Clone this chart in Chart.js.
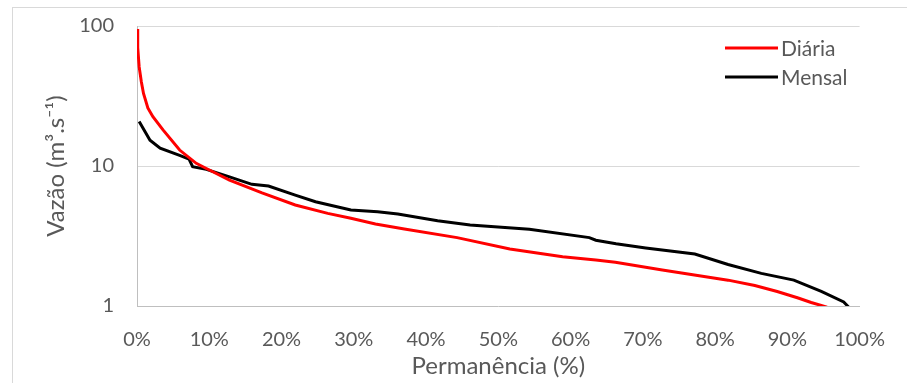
<!DOCTYPE html>
<html>
<head>
<meta charset="utf-8">
<script src="https://cdn.jsdelivr.net/npm/chart.js@4"></script>
<style>
    html, body { margin: 0; padding: 0; background: #ffffff; }
    #wrap { position: relative; width: 907px; height: 383px; }
</style>
</head>
<body>
<div id="wrap"><canvas id="grafico" width="907" height="383"></canvas></div>
<script>
// permanencia (%) e vazao (m3/s)
var diariaX = [0, 0.1, 0.3, 0.6, 0.9, 1.5, 2.2, 3.6, 5.9, 8.2, 9.6, 12.8, 17.3, 21.9, 26.4, 29.6, 33, 37, 44.3, 51.6, 58.9, 63.5, 66.2, 72.7, 81.8, 85.5, 88.6, 91.5, 93.3, 95.5];
var diariaY = [95, 70, 51, 40, 33, 26, 22.5, 18.1, 13, 10.45, 9.6, 7.94, 6.42, 5.27, 4.59, 4.23, 3.85, 3.55, 3.08, 2.55, 2.25, 2.13, 2.05, 1.81, 1.53, 1.4, 1.27, 1.14, 1.06, 0.98];

var mensalX = [0.3, 1.8, 3.2, 5.9, 7.2, 7.7, 9.6, 12.8, 15.9, 18.2, 21.9, 24.7, 29.6, 33.3, 36.1, 41.6, 46.1, 54.3, 62.6, 63.5, 66.3, 70.4, 77.2, 81.8, 86.4, 90.9, 94.7, 97.8, 98.5];
var mensalY = [20.8, 15.3, 13.4, 11.9, 11.2, 9.9, 9.46, 8.37, 7.4, 7.19, 6.2, 5.56, 4.85, 4.72, 4.54, 4.07, 3.79, 3.53, 3.08, 2.95, 2.78, 2.6, 2.35, 1.98, 1.71, 1.53, 1.27, 1.07, 0.98];

var yTicks = [1, 10, 100];
var xTicks = [0, 10, 20, 30, 40, 50, 60, 70, 80, 90, 100];

var series = [
    { label: 'Diária', xs: diariaX, ys: diariaY, cor: '#ff0000' },
    { label: 'Mensal', xs: mensalX, ys: mensalY, cor: '#000000' }
];

var fonte = 'Lato, "Liberation Sans", sans-serif';
var cinzaTexto = '#595959';

function pontos(xs, ys) {
    var out = [];
    for (var i = 0; i < xs.length; i++) {
        out.push({ x: xs[i], y: ys[i] });
    }
    return out;
}

// borda externa e legenda dentro da area do grafico
var extras = {
    id: 'extras',
    beforeDraw: function (chart) {
        var ctx = chart.ctx;
        ctx.save();
        ctx.strokeStyle = '#d9d9d9';
        ctx.lineWidth = 1;
        ctx.strokeRect(12.5, 7.5, 1000, 1000);
        ctx.restore();
    },
    afterDraw: function (chart) {
        var ctx = chart.ctx;
        ctx.save();
        ctx.font = '21px ' + fonte;
        ctx.textBaseline = 'middle';
        ctx.fillStyle = cinzaTexto;
        for (var i = 0; i < series.length; i++) {
            var y = 48 + i * 29;
            ctx.strokeStyle = series[i].cor;
            ctx.lineWidth = 3;
            ctx.beginPath();
            ctx.moveTo(725, y);
            ctx.lineTo(778, y);
            ctx.stroke();
            ctx.fillText(series[i].label, 781, y + 1);
        }
        ctx.restore();
    }
};

var datasets = series.map(function (s) {
    return {
        label: s.label,
        data: pontos(s.xs, s.ys),
        borderColor: s.cor,
        backgroundColor: s.cor,
        borderWidth: 3,
        pointRadius: 0,
        tension: 0,
        showLine: true
    };
});

new Chart(document.getElementById('grafico'), {
    type: 'scatter',
    data: { datasets: datasets },
    plugins: [extras],
    options: {
        responsive: false,
        animation: false,
        layout: { padding: { left: 42, right: 41, top: 26, bottom: 0 } },
        plugins: {
            legend: { display: false },
            tooltip: { enabled: false }
        },
        scales: {
            x: {
                type: 'linear',
                min: 0,
                max: 100,
                afterBuildTicks: function (scale) {
                    scale.ticks = xTicks.map(function (v) { return { value: v }; });
                },
                afterFit: function (scale) { scale.height = 77; },
                grid: { display: false, drawTicks: false },
                border: { display: true, color: '#bfbfbf', width: 1 },
                ticks: {
                    padding: 22,
                    color: cinzaTexto,
                    font: { family: fonte, size: 20 },
                    maxRotation: 0,
                    callback: function (v) { return v + '%'; }
                },
                title: {
                    display: true,
                    text: 'Permanência (%)',
                    color: cinzaTexto,
                    font: { family: fonte, size: 24 },
                    padding: { top: 0, bottom: 2 }
                }
            },
            y: {
                type: 'logarithmic',
                min: 1,
                max: 100,
                afterBuildTicks: function (scale) {
                    scale.ticks = yTicks.map(function (v) { return { value: v }; });
                },
                afterFit: function (scale) {
                    scale.width = 95;
                    // o padding dos rotulos nao deve empurrar o topo da area
                    scale.paddingTop = 0;
                    scale.paddingBottom = 0;
                },
                grid: {
                    drawTicks: false,
                    color: function (c) { return c.tick && c.tick.value === 1 ? 'rgba(0,0,0,0)' : '#d9d9d9'; },
                    lineWidth: 1
                },
                border: { display: true, color: '#bfbfbf', width: 1 },
                ticks: {
                    padding: 23,
                    color: cinzaTexto,
                    font: { family: fonte, size: 20 },
                    callback: function (v) { return String(v); }
                },
                title: {
                    display: true,
                    text: 'Vazão (m³.s⁻¹)',
                    color: cinzaTexto,
                    font: { family: fonte, size: 24 },
                    padding: { top: 0, bottom: 0 }
                }
            }
        }
    }
});
</script>
</body>
</html>
